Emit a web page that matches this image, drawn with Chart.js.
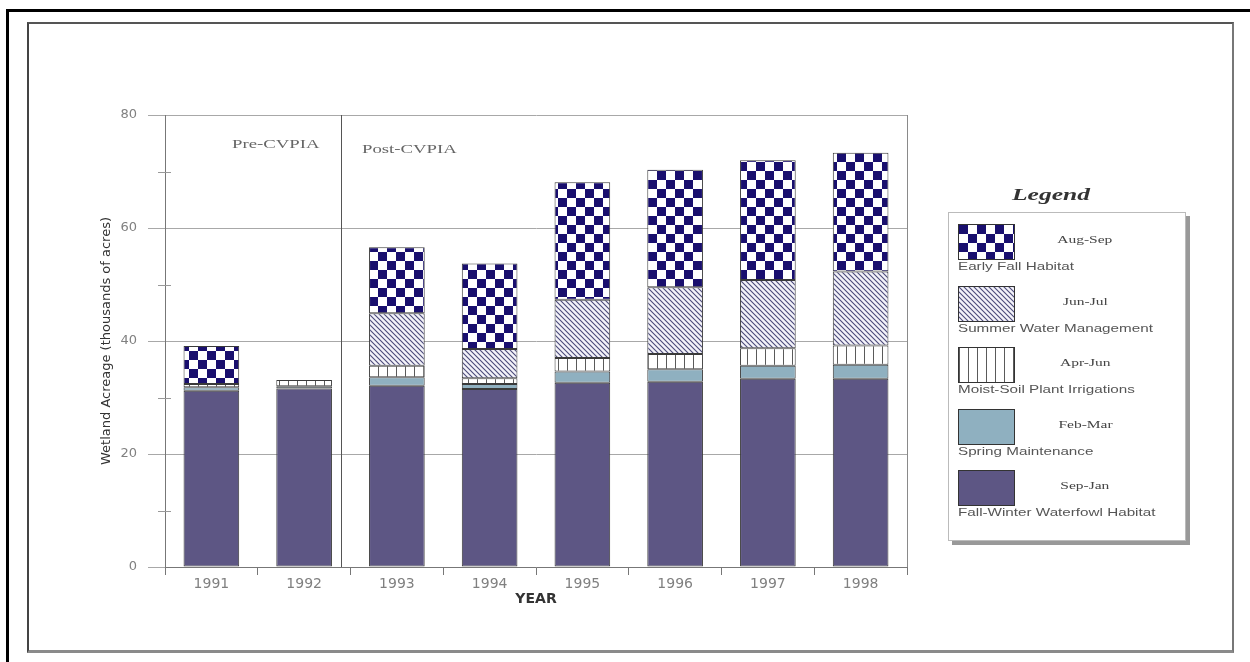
<!DOCTYPE html>
<html>
  <head>
    <script src="https://cdn.jsdelivr.net/npm/chart.js@4.4.0/dist/chart.umd.min.js"></script>
    <style>
      body {
        margin: 0;
        background: #fff;
        width: 1250px;
        height: 662px;
        overflow: hidden;
        position: relative;
        font-family: "Liberation Sans", Arial, sans-serif;
      }
      .frame-outer {
        position: absolute;
        left: 6px;
        top: 9px;
        width: 1250px;
        height: 660px;
        border-top: 3px solid #000;
        border-left: 3px solid #000;
      }
      .frame-inner {
        position: absolute;
        left: 27px;
        top: 22px;
        width: 1207px;
        height: 631px;
        box-sizing: border-box;
        border-top: 2px solid #555;
        border-left: 2px solid #444;
        border-right: 2px solid #777;
        border-bottom: 3px solid #8a8a8a;
      }
      #chart {
        position: absolute;
        left: 0;
        top: 0;
      }
      .note {
        position: absolute;
        font-family: "Liberation Serif", "Times New Roman", serif;
        font-size: 12.5px;
        line-height: 14px;
        color: #666;
        white-space: nowrap;
        transform: scaleX(1.5);
        transform-origin: left center;
      }
      .legend-title {
        position: absolute;
        left: 956px;
        width: 190px;
        top: 184px;
        text-align: center;
        font-family: "Liberation Serif", "Times New Roman", serif;
        font-style: italic;
        font-weight: bold;
        font-size: 17px;
        line-height: 22px;
        color: #333;
      }
      .legend-title span, .period span {
        display: inline-block;
        transform-origin: center center;
      }
      .legend-title span { transform: scaleX(1.5); }
      .legend-box {
        position: absolute;
        left: 948px;
        top: 212px;
        width: 236px;
        height: 327px;
        border: 1px solid #bbb;
        box-shadow: 4px 4px 0 #999;
        background: #fff;
      }
      .swatch {
        position: absolute;
        left: 958px;
        border: 1px solid #333;
      }
      .period {
        position: absolute;
        left: 1035px;
        width: 100px;
        text-align: center;
        font-family: "Liberation Serif", "Times New Roman", serif;
        font-size: 10px;
        line-height: 12px;
        color: #444;
        white-space: nowrap;
      }
      .period span { transform: scaleX(1.55); }
      .desc {
        position: absolute;
        left: 958px;
        font-size: 10.5px;
        line-height: 12px;
        color: #555;
        white-space: nowrap;
        transform: scaleX(1.45);
        transform-origin: left center;
      }
    </style>
  </head>
  <body>
    <div class="frame-outer"></div>
    <div class="frame-inner"></div>
    <canvas id="chart" width="1250" height="662"></canvas>

    <div class="note" style="left:232px; top:137px;">Pre-CVPIA</div>
    <div class="note" style="left:362px; top:142px;">Post-CVPIA</div>

    <div class="legend-title"><span>Legend</span></div>
    <div class="legend-box"></div>
    <div id="legendItems"></div>

    <script>
      // values in thousands of acres
      const years = ['1991', '1992', '1993', '1994', '1995', '1996', '1997', '1998'];
      const fallWinter = [31.2, 31.6, 32.1, 31.5, 32.6, 32.8, 33.3, 33.3];
      const spring = [0.6, 0.4, 1.5, 0.9, 2.0, 2.2, 2.3, 2.5];
      const moistSoil = [0.6, 1.1, 2.0, 1.0, 2.4, 2.7, 3.1, 3.4];
      const summer = [null, null, 9.3, 5.2, 10.3, 11.8, 12.1, 13.1];
      const earlyFall = [6.7, null, 11.7, 15.1, 20.8, 20.8, 21.2, 21.0];

      const seriesNames = ['Fall-Winter Waterfowl Habitat', 'Spring Maintenance', 'Moist-Soil Plant Irrigations', 'Summer Water Management', 'Early Fall Habitat'];
      const seriesPeriods = ['Sep-Jan', 'Feb-Mar', 'Apr-Jun', 'Jun-Jul', 'Aug-Sep'];
      const seriesFills = ['solid-purple', 'solid-blue', 'stripes', 'hatch', 'checker'];

      const yMax = 80;
      const yStep = 20;
      const minorTicks = [10, 30, 50, 70];
      const dividerAt = 1.4; // between 1992 and 1993, in category units

      function makeFill(ctx, kind) {
        if (kind === 'solid-purple') return '#5d5684';
        if (kind === 'solid-blue') return '#8fb0c0';
        const c = document.createElement('canvas');
        const g = c.getContext('2d');
        if (kind === 'checker') {
          c.width = 18; c.height = 18;
          g.fillStyle = '#fff';
          g.fillRect(0, 0, 18, 18);
          g.fillStyle = '#190f6e';
          g.fillRect(0, 0, 9, 9);
          g.fillRect(9, 9, 9, 9);
        } else if (kind === 'hatch') {
          const s = 5;
          c.width = s; c.height = s;
          g.fillStyle = '#f3f2f9';
          g.fillRect(0, 0, s, s);
          g.strokeStyle = '#4b4a7a';
          g.lineWidth = 1.1;
          g.beginPath();
          g.moveTo(0, 0); g.lineTo(s, s);
          g.moveTo(-1, s - 1); g.lineTo(1, s + 1);
          g.moveTo(s - 1, -1); g.lineTo(s + 1, 1);
          g.stroke();
        } else if (kind === 'stripes') {
          c.width = 9; c.height = 4;
          g.fillStyle = '#fff';
          g.fillRect(0, 0, 9, 4);
          g.fillStyle = '#5a5a5a';
          g.fillRect(0, 0, 1, 4);
        }
        return ctx.createPattern(c, 'repeat');
      }

      const canvas = document.getElementById('chart');
      const ctx = canvas.getContext('2d');
      const seriesData = [fallWinter, spring, moistSoil, summer, earlyFall];

      const datasets = seriesData.map(function(values, i) {
        return {
          label: seriesPeriods[i] + ' ' + seriesNames[i],
          data: values,
          backgroundColor: makeFill(ctx, seriesFills[i]),
          borderColor: '#3a3a3a',
          borderWidth: 1,
          borderSkipped: false,
          barPercentage: 0.6,
          categoryPercentage: 1.0
        };
      });

      const framePlugin = {
        id: 'frameLines',
        afterDraw: function(chart) {
          const c = chart.ctx;
          const area = chart.chartArea;
          const x = chart.scales.x;
          const y = chart.scales.y;
          c.save();
          // right border of plot
          c.strokeStyle = '#8a8a8a';
          c.lineWidth = 1;
          c.beginPath();
          c.moveTo(area.right + 0.5, area.top);
          c.lineTo(area.right + 0.5, area.bottom);
          c.stroke();
          // minor ticks
          c.strokeStyle = '#999';
          minorTicks.forEach(function(v) {
            const py = Math.round(y.getPixelForValue(v)) + 0.5;
            c.beginPath();
            c.moveTo(area.left - 7, py);
            c.lineTo(area.left + 6, py);
            c.stroke();
          });
          // pre / post divider
          const x1 = x.getPixelForValue(1);
          const x2 = x.getPixelForValue(2);
          const dx = Math.round(x1 + (dividerAt - 1) * (x2 - x1)) + 0.5;
          c.strokeStyle = '#555';
          c.beginPath();
          c.moveTo(dx, area.top);
          c.lineTo(dx, area.bottom);
          c.stroke();
          c.restore();
        }
      };

      new Chart(ctx, {
        type: 'bar',
        data: {
          labels: years,
          datasets: datasets
        },
        options: {
          responsive: false,
          animation: false,
          layout: {
            padding: { left: 90, top: 115, right: 343, bottom: 47 }
          },
          plugins: {
            legend: { display: false },
            tooltip: { enabled: false }
          },
          scales: {
            x: {
              stacked: true,
              grid: {
                display: true,
                drawOnChartArea: false,
                offset: true,
                tickLength: 8,
                color: '#777'
              },
              border: { color: '#777', width: 1 },
              ticks: {
                color: '#808080',
                padding: 1,
                maxRotation: 0,
                font: { family: 'DejaVu Sans', size: 14 }
              },
              title: {
                display: true,
                text: 'YEAR',
                color: '#333',
                font: { family: 'DejaVu Sans', size: 14, weight: 'bold' },
                padding: { top: 0, bottom: 7 }
              },
              afterFit: function(scale) { scale.height = 48; }
            },
            y: {
              stacked: true,
              min: 0,
              max: yMax,
              grid: {
                color: '#a8a8a8',
                tickColor: '#a8a8a8',
                tickLength: 17
              },
              border: { color: '#777', width: 1 },
              ticks: {
                stepSize: yStep,
                color: '#808080',
                padding: 11,
                font: { family: 'DejaVu Sans', size: 13 }
              },
              title: {
                display: true,
                text: 'Wetland Acreage (thousands of acres)',
                color: '#333',
                font: { family: 'DejaVu Sans', size: 13 },
                padding: { top: 9, bottom: 0 }
              },
              afterFit: function(scale) { scale.width = 75; }
            }
          }
        },
        plugins: [framePlugin]
      });

      // legend, top entry first (reverse of stacking order)
      const holder = document.getElementById('legendItems');
      for (let k = 0; k < seriesNames.length; k++) {
        const i = seriesNames.length - 1 - k;
        const top = 224 + k * 61.5;

        const sw = document.createElement('canvas');
        sw.className = 'swatch';
        sw.width = 55;
        sw.height = 34;
        sw.style.top = top + 'px';
        const sctx = sw.getContext('2d');
        sctx.fillStyle = makeFill(sctx, seriesFills[i]);
        sctx.fillRect(0, 0, 55, 34);
        holder.appendChild(sw);

        const per = document.createElement('div');
        per.className = 'period';
        per.style.top = (top + 10) + 'px';
        per.innerHTML = '<span>' + seriesPeriods[i] + '</span>';
        holder.appendChild(per);

        const desc = document.createElement('div');
        desc.className = 'desc';
        desc.style.top = (top + 36) + 'px';
        desc.textContent = seriesNames[i];
        holder.appendChild(desc);
      }
    </script>
  </body>
</html>
